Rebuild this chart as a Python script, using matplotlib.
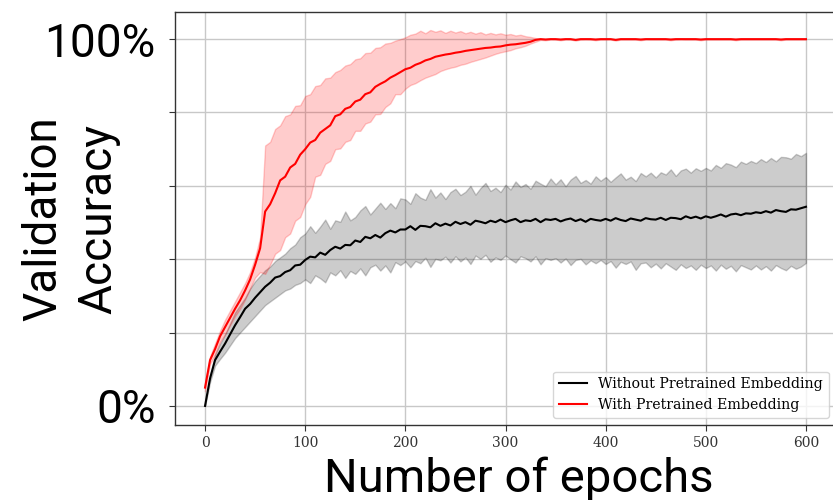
import numpy as np
import matplotlib
matplotlib.use('agg')
from matplotlib import pyplot as plt

# Epochs sampled every 5
epochs = np.arange(0, 605, 5)

# Without pretrained embedding (percent)
black_mean = [
    0.0, 7.5, 12.5, 14.8, 17.0, 19.5, 22.0, 24.2, 26.5, 27.8,
    29.5, 31.0, 32.5, 33.6, 35.0, 35.4, 36.5, 37.0, 38.3, 38.5,
    39.8, 40.7, 40.5, 41.8, 41.2, 42.5, 43.4, 42.9, 43.9, 43.8,
    45.1, 44.7, 46.1, 45.7, 46.6, 45.9, 47.1, 47.8, 47.3, 48.1,
    48.1, 49.0, 48.0, 49.1, 49.0, 48.7, 49.8, 49.1, 49.7, 49.2,
    50.2, 49.6, 50.1, 49.4, 50.5, 50.2, 49.8, 50.5, 50.1, 50.8,
    50.1, 50.6, 51.0, 50.1, 50.6, 50.4, 51.0, 50.1, 50.9, 50.7,
    51.0, 50.3, 50.8, 51.1, 50.4, 50.9, 50.2, 51.0, 50.7, 50.5,
    51.0, 50.5, 51.2, 50.7, 50.4, 51.1, 50.8, 50.5, 51.2, 50.9,
    50.8, 51.3, 50.7, 51.3, 51.2, 50.9, 51.7, 51.2, 51.6, 51.1,
    51.7, 51.3, 51.7, 52.2, 51.6, 52.2, 52.4, 52.0, 52.5, 52.4,
    52.8, 52.6, 53.1, 52.7, 53.4, 53.1, 52.9, 53.6, 53.5, 53.9,
    54.3]
black_upper = [
    0.5, 8.5, 14.0, 17.0, 19.5, 22.5, 25.5, 27.5, 29.5, 32.0,
    34.0, 35.5, 37.0, 38.0, 39.5, 40.5, 41.5, 43.0, 44.0, 46.0,
    47.0, 49.0, 47.2, 48.9, 50.8, 48.3, 50.6, 50.2, 53.0, 50.6,
    51.5, 53.3, 54.5, 52.2, 53.8, 55.4, 53.7, 55.3, 53.9, 56.6,
    56.3, 55.1, 58.0, 56.8, 56.2, 59.1, 56.8, 58.2, 56.4, 58.3,
    59.2, 57.5, 58.4, 60.0, 57.6, 59.4, 60.8, 58.6, 59.5, 58.3,
    60.3, 59.0, 61.2, 59.7, 60.5, 59.2, 61.4, 60.6, 59.9, 62.0,
    60.4, 61.8, 59.9, 61.7, 62.7, 60.8, 61.6, 60.6, 62.6, 61.4,
    62.4, 61.1, 62.3, 63.4, 61.7, 62.5, 61.3, 63.5, 62.6, 63.6,
    62.3, 63.7, 63.1, 64.5, 62.7, 64.2, 64.7, 63.6, 64.8, 64.1,
    64.9, 64.2, 65.7, 64.9, 66.2, 65.8, 65.1, 66.6, 66.0, 66.8,
    66.2, 67.3, 66.5, 67.6, 66.7, 67.9, 67.8, 67.4, 68.7, 68.1,
    69.0]
black_lower = [
    0.0, 6.5, 11.0, 12.8, 14.5, 16.5, 18.5, 20.0, 21.5, 23.0,
    24.5, 26.0, 27.5, 28.5, 29.5, 30.5, 31.5, 32.0, 33.0, 33.5,
    34.5, 33.5, 35.6, 34.8, 33.7, 36.4, 35.6, 37.0, 34.9, 36.8,
    36.0, 37.5, 35.6, 37.8, 38.5, 36.9, 38.3, 36.4, 39.2, 38.4,
    39.4, 37.8, 39.5, 38.9, 40.4, 37.9, 40.1, 39.7, 40.7, 39.1,
    40.8, 39.4, 40.5, 38.7, 41.0, 40.1, 41.2, 39.3, 40.5, 39.8,
    41.0, 40.0, 39.1, 40.8, 40.3, 39.4, 40.8, 38.6, 40.3, 39.8,
    40.3, 39.1, 40.2, 38.4, 39.8, 40.1, 38.6, 39.7, 38.9, 39.8,
    38.7, 39.5, 37.7, 39.3, 38.7, 39.4, 37.1, 38.9, 39.1, 37.8,
    38.8, 37.5, 38.9, 38.0, 37.1, 38.6, 37.6, 38.3, 37.1, 38.5,
    37.6, 38.3, 36.9, 38.5, 37.4, 38.2, 36.7, 38.4, 37.8, 37.2,
    38.3, 37.2, 38.1, 36.9, 38.4, 37.6, 37.0, 38.2, 37.4, 38.0,
    39.0]

# With pretrained embedding (percent)
red_mean = [
    5.0, 12.5, 15.5, 19.0, 21.5, 24.0, 26.5, 28.8, 31.5, 34.5,
    38.5, 43.0, 53.0, 55.0, 58.0, 61.5, 62.5, 65.0, 66.0, 68.5,
    70.0, 71.8, 72.5, 74.5, 75.5, 76.5, 79.0, 79.5, 81.0, 81.5,
    83.0, 83.5, 85.0, 85.5, 87.0, 87.8, 88.5, 89.5, 90.2, 91.0,
    91.8, 92.2, 93.0, 93.5, 94.2, 94.6, 95.2, 95.5, 95.8, 96.0,
    96.3, 96.5, 96.8, 97.0, 97.2, 97.4, 97.6, 97.7, 97.9, 98.0,
    98.3, 98.5, 98.6, 98.8, 99.0, 99.3, 99.8, 100.0, 99.9, 100.0,
    100.0, 99.9, 100.0, 100.0, 99.8, 100.0, 100.0, 100.0, 99.9, 100.0,
    100.0, 100.0, 99.8, 100.0, 100.0, 100.0, 100.0, 99.9, 100.0, 100.0,
    100.0, 100.0, 100.0, 99.9, 100.0, 100.0, 100.0, 100.0, 100.0, 99.9,
    100.0, 100.0, 100.0, 100.0, 100.0, 100.0, 99.9, 100.0, 100.0, 100.0,
    100.0, 100.0, 100.0, 100.0, 100.0, 99.9, 100.0, 100.0, 100.0, 100.0,
    100.0]
red_upper = [
    6.0, 13.5, 17.0, 20.5, 23.5, 26.0, 28.5, 31.0, 33.5, 36.5,
    40.5, 46.0, 71.0, 72.0, 75.5, 76.5, 79.0, 79.5, 81.8, 82.0,
    84.5, 85.0, 87.2, 87.5, 89.3, 89.5, 91.0, 91.6, 92.8, 93.2,
    94.5, 94.8, 96.2, 96.3, 97.6, 97.8, 98.8, 99.0, 99.6, 100.0,
    100.5, 101.2, 101.5, 102.3, 101.6, 102.5, 102.0, 102.4, 101.7, 102.3,
    101.8, 102.2, 101.6, 102.0, 101.5, 101.9, 101.3, 101.7, 101.3, 101.6,
    101.2, 101.4, 101.0, 101.2, 100.8, 100.6, 100.3, 100.1, 100.0, 100.1,
    100.0, 100.0, 100.1, 100.0, 100.0, 100.0, 100.1, 100.0, 100.0, 100.0,
    100.0, 100.1, 100.0, 100.0, 100.0, 100.0, 100.0, 100.0, 100.1, 100.0,
    100.0, 100.0, 100.0, 100.0, 100.0, 100.1, 100.0, 100.0, 100.0, 100.0,
    100.0, 100.0, 100.0, 100.0, 100.0, 100.0, 100.0, 100.0, 100.0, 100.0,
    100.0, 100.0, 100.0, 100.0, 100.0, 100.0, 100.0, 100.0, 100.0, 100.0,
    100.0]
red_lower = [
    4.0, 11.5, 14.0, 17.5, 19.5, 22.0, 24.5, 26.5, 29.0, 32.0,
    35.0, 36.5, 36.0, 38.5, 41.5, 42.5, 46.0, 47.0, 50.5, 51.5,
    55.0, 57.0, 62.5, 63.0, 66.0, 66.8, 70.0, 70.2, 72.0, 72.5,
    75.0, 75.0, 77.0, 77.5, 79.5, 79.6, 81.5, 82.5, 85.0, 85.0,
    86.5, 87.5, 88.0, 88.8, 89.5, 90.0, 90.5, 91.3, 91.8, 92.2,
    92.5, 93.0, 93.3, 93.8, 94.2, 94.6, 95.0, 95.5, 96.0, 96.4,
    96.7, 97.0, 97.5, 97.8, 98.2, 98.8, 99.3, 99.8, 99.7, 99.9,
    99.9, 99.7, 99.9, 99.9, 99.6, 99.9, 99.9, 99.9, 99.7, 99.9,
    99.9, 99.9, 99.6, 99.9, 99.9, 99.9, 99.9, 99.7, 99.9, 99.9,
    99.9, 99.9, 99.9, 99.7, 99.9, 99.9, 99.9, 99.9, 99.9, 99.7,
    99.9, 99.9, 99.9, 99.9, 99.9, 99.9, 99.7, 99.9, 99.9, 99.9,
    99.9, 99.9, 99.9, 99.9, 99.9, 99.7, 99.9, 99.9, 99.9, 99.9,
    99.9]

y_ticks = [0, 20, 40, 60, 80, 100]
y_ticklabels = ['0%', '', '', '', '', '100%']
x_ticks = [0, 100, 200, 300, 400, 500, 600]

fig = plt.figure(figsize=(8.33, 5), dpi=100)
ax = fig.add_axes([175 / 833, 75 / 500, 661 / 833, 413 / 500])

ax.fill_between(epochs, black_lower, black_upper, color='black', alpha=0.2)
ax.plot(epochs, black_mean, color='black', lw=1.5, label='Without Pretrained Embedding')
ax.fill_between(epochs, red_lower, red_upper, color='red', alpha=0.2)
ax.plot(epochs, red_mean, color='red', lw=1.5, label='With Pretrained Embedding')

ax.set_xlim(-30, 630)
ax.set_ylim(-5.2, 107.4)
ax.set_yticks(y_ticks)
ax.set_yticklabels(y_ticklabels, fontfamily='Roboto', fontsize=33)
ax.set_xticks(x_ticks)
ax.set_xticklabels([str(t) for t in x_ticks], fontfamily='DejaVu Serif', fontsize=10, color='#333333')
ax.tick_params(axis='y', pad=10, length=4, color='#333333')
ax.tick_params(axis='x', pad=4, length=4, color='#333333')
ax.grid(True, color='#c8c8c8', lw=1)
ax.set_axisbelow(True)
for s in ax.spines.values():
    s.set_color('#333333')
    s.set_linewidth(1)

ax.set_xlabel('Number of epochs', fontfamily='Roboto', fontsize=34)
ax.xaxis.set_label_coords((519 - 175) / 661, (425 - 457) / 413)
ax.set_ylabel('Validation\nAccuracy', fontfamily='Roboto', fontsize=33, linespacing=1.3)
ax.yaxis.set_label_coords((120 - 175) / 661, 0.5)

ax.legend(loc='lower right', prop={'family': 'DejaVu Serif', 'size': 10.2})

plt.savefig('out.png', dpi=100)
